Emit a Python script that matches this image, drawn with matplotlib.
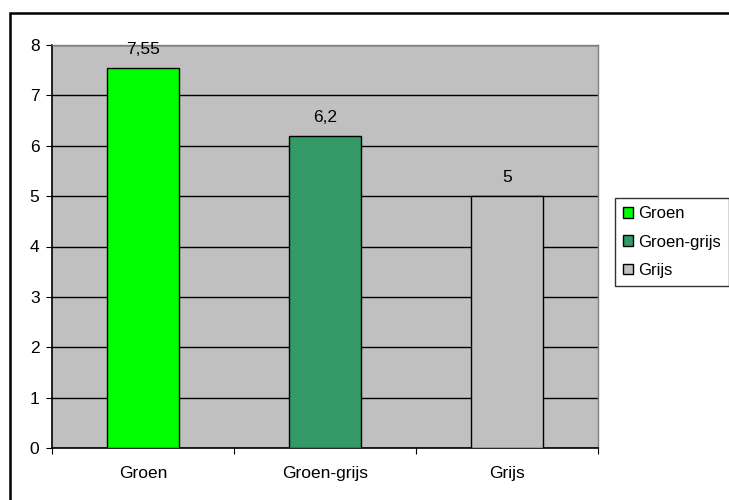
import matplotlib.pyplot as plt
from matplotlib.patches import Patch, Rectangle

plt.rcParams['font.family'] = ['Liberation Sans', 'DejaVu Sans']

categories = ['Groen', 'Groen-grijs', 'Grijs']
values = [7.55, 6.2, 5]
labels = ['7,55', '6,2', '5']
colors = ['#00FF00', '#339966', '#C0C0C0']

fig = plt.figure(figsize=(7.29, 5), dpi=100)
fig.patches.append(Rectangle((10/729, -0.1), 1.2, 1.1 - 13/500, transform=fig.transFigure,
                             fill=False, edgecolor='black', linewidth=1.8))

ax = fig.add_axes([52/729, 52/500, 546/729, 403/500])
ax.set_facecolor('#C0C0C0')
x = [0.5, 1.5, 2.5]
ax.bar(x, values, width=0.4, color=colors, edgecolor='black', linewidth=1, zorder=3)
for xi, v, t in zip(x, values, labels):
    ax.annotate(t, (xi, v), xytext=(0, 8), textcoords='offset points',
                ha='center', va='bottom', fontsize=12.5)

ax.set_xlim(0, 3)
ax.set_ylim(0, 8)
ax.set_yticks(range(9))
ax.set_xticks([0, 1, 2, 3])
ax.set_xticklabels([])
ax.set_xticks(x, minor=True)
ax.set_xticklabels(categories, minor=True, fontsize=12.5)
ax.tick_params(axis='x', which='minor', length=0, pad=13)
ax.tick_params(axis='x', which='major', length=4, direction='out')
ax.tick_params(axis='y', length=4, direction='out', labelsize=12.5, pad=5)
ax.grid(axis='y', color='black', linewidth=1, zorder=1)
ax.set_axisbelow(True)
for s in ['left', 'bottom']:
    ax.spines[s].set_color('black')
    ax.spines[s].set_linewidth(1.2)
for s in ['top', 'right']:
    ax.spines[s].set_color('#808080')
    ax.spines[s].set_linewidth(1)

handles = [Patch(facecolor=c, edgecolor='black', label=n) for c, n in zip(colors, categories)]
leg = fig.legend(handles=handles, loc='upper left', bbox_to_anchor=(615/729, 1 - 198/500),
                 frameon=True, fancybox=False, edgecolor='black', fontsize=12,
                 handlelength=0.6, handleheight=0.6, handletextpad=0.3,
                 labelspacing=0.8, borderpad=0.5, borderaxespad=0)
leg.get_frame().set_linewidth(1)

fig.savefig('out.png', dpi=100)
